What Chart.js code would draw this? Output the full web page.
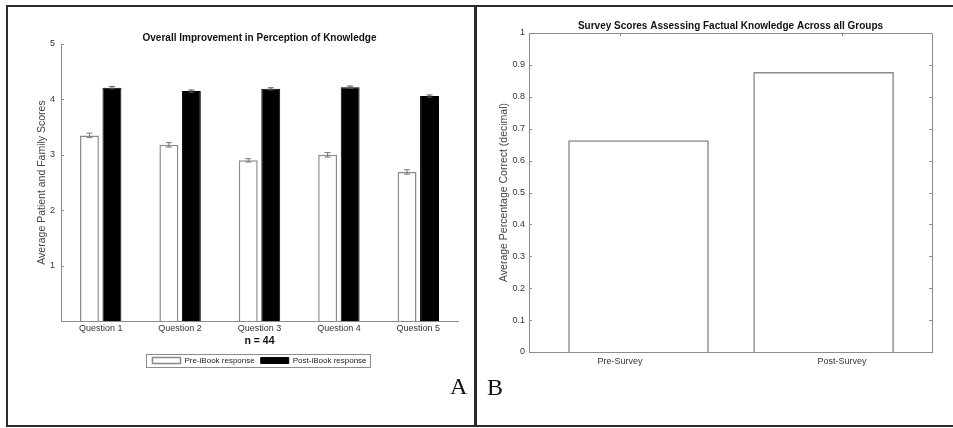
<!DOCTYPE html>
<html>
<head>
<meta charset="utf-8">
<title>Knowledge survey charts</title>
<script src="https://cdn.jsdelivr.net/npm/chart.js@4.4.0/dist/chart.umd.min.js"></script>
<style>
  html, body { margin: 0; padding: 0; background: #fff; }
  #wrap { position: relative; width: 953px; height: 428px; overflow: hidden; }
  canvas { position: absolute; top: 0; }
  #chartA { left: 0; }
  #chartB { left: 477px; }
  .rule { position: absolute; background: #2b2b2b; }
  .tag { position: absolute; font-family: "Liberation Serif", "Times New Roman", serif; font-size: 24px; line-height: 1; color: #111; }
</style>
</head>
<body>
<div id="wrap">
  <canvas id="chartA" width="476" height="428"></canvas>
  <canvas id="chartB" width="476" height="428"></canvas>
  <div class="rule" style="left:6px;top:5px;width:947px;height:2px"></div>
  <div class="rule" style="left:6px;top:5px;width:2px;height:422px"></div>
  <div class="rule" style="left:6px;top:425px;width:947px;height:2px"></div>
  <div class="rule" style="left:474px;top:5px;width:3px;height:422px"></div>
  <div class="tag" style="left:450px;top:374px">A</div>
  <div class="tag" style="left:487px;top:375px">B</div>
</div>
<script>
  // panel A data: perceived knowledge, pre vs post iBook
  const questions = ['Question 1', 'Question 2', 'Question 3', 'Question 4', 'Question 5'];
  const preScores = [3.35, 3.18, 2.90, 3.00, 2.69];
  const preErrors = [0.04, 0.04, 0.03, 0.04, 0.04];
  const postScores = [4.21, 4.15, 4.19, 4.22, 4.06];
  const postErrors = [0.02, 0.02, 0.02, 0.02, 0.02];

  // panel B data: factual knowledge survey
  const surveyLabels = ['Pre-Survey', 'Post-Survey'];
  const surveyScores = [0.663, 0.877];

  const FONT = '"Liberation Sans", Arial, sans-serif';
  const AXIS_GREY = '#8c8c8c';
  Chart.defaults.font.family = FONT;

  // error bars drawn from the dataset's own errors array
  const errorBars = {
    id: 'errorBars',
    afterDatasetsDraw(chart) {
      const ctx = chart.ctx;
      const yScale = chart.scales.y;
      chart.data.datasets.forEach((ds, i) => {
        if (!ds.errors) return;
        const meta = chart.getDatasetMeta(i);
        ctx.save();
        ctx.strokeStyle = ds.errorColor || '#666';
        ctx.lineWidth = 1;
        meta.data.forEach((bar, j) => {
          const v = ds.data[j], e = ds.errors[j];
          const top = yScale.getPixelForValue(v + e);
          const bot = yScale.getPixelForValue(v - e);
          const w = 3;
          ctx.beginPath();
          ctx.moveTo(bar.x, top); ctx.lineTo(bar.x, bot);
          ctx.moveTo(bar.x - w, top); ctx.lineTo(bar.x + w, top);
          ctx.moveTo(bar.x - w, bot); ctx.lineTo(bar.x + w, bot);
          ctx.stroke();
        });
        ctx.restore();
      });
    }
  };

  // thin frame round the legend items (matlab style)
  const legendFrame = {
    id: 'legendFrame',
    afterDraw(chart) {
      const boxes = chart.legend && chart.legend.legendHitBoxes;
      if (!boxes || !boxes.length) return;
      const first = boxes[0], last = boxes[boxes.length - 1];
      const ctx = chart.ctx;
      ctx.save();
      ctx.strokeStyle = AXIS_GREY;
      ctx.lineWidth = 1;
      ctx.strokeRect(Math.round(first.left - 6) + 0.5, Math.round(first.top - 2.5) + 0.5,
        Math.round(last.left + last.width + 4 - (first.left - 6)), 13);
      ctx.restore();
    }
  };

  // inward tick marks, plus the closing box when asked
  const innerTicks = {
    id: 'innerTicks',
    afterDraw(chart, args, opts) {
      const ctx = chart.ctx, a = chart.chartArea;
      const len = 3;
      ctx.save();
      ctx.strokeStyle = AXIS_GREY;
      ctx.lineWidth = 1;
      ctx.beginPath();
      const ys = chart.scales.y;
      ys.ticks.forEach((t, i) => {
        const y = Math.round(ys.getPixelForTick(i)) + 0.5;
        ctx.moveTo(a.left, y); ctx.lineTo(a.left + len, y);
        if (opts.box) { ctx.moveTo(a.right, y); ctx.lineTo(a.right - len, y); }
      });
      if (opts.box) {
        const xs = chart.scales.x;
        xs.ticks.forEach((t, i) => {
          const x = Math.round(xs.getPixelForTick(i)) + 0.5;
          ctx.moveTo(x, a.top); ctx.lineTo(x, a.top + len);
        });
        ctx.rect(Math.round(a.left) + 0.5, Math.round(a.top) + 0.5,
          Math.round(a.right - a.left), Math.round(a.bottom - a.top));
      }
      ctx.stroke();
      ctx.restore();
    }
  };

  // ---------- panel A ----------
  new Chart(document.getElementById('chartA'), {
    type: 'bar',
    data: {
      labels: questions,
      datasets: [
        { label: 'Pre-iBook response', data: preScores, errors: preErrors, errorColor: '#777',
          backgroundColor: '#ffffff', borderColor: '#8a8a8a', borderWidth: 1.5 },
        { label: 'Post-iBook response', data: postScores, errors: postErrors, errorColor: '#555',
          backgroundColor: '#000000', borderColor: '#000000', borderWidth: 1 }
      ]
    },
    options: {
      responsive: false,
      animation: false,
      layout: { padding: { left: 31, right: 18, top: 0, bottom: 53.5 } },
      datasets: { bar: { categoryPercentage: 0.567, barPercentage: 0.84, borderSkipped: 'start' } },
      plugins: {
        title: {
          display: true, fullSize: false,
          text: 'Overall Improvement in Perception of Knowledge',
          color: '#111', font: { size: 10, weight: 'bold' },
          padding: { top: 32.5, bottom: -0.5 }
        },
        legend: {
          position: 'bottom', fullSize: false,
          labels: { boxWidth: 28, boxHeight: 6, padding: 6, color: '#222', font: { size: 8 } }
        },
        tooltip: { enabled: false },
        innerTicks: { box: false }
      },
      scales: {
        x: {
          grid: { display: false, drawTicks: false },
          border: { color: AXIS_GREY },
          ticks: { color: '#333', font: { size: 9 }, padding: 2.5 },
          title: { display: true, text: 'n = 44', color: '#111', font: { size: 10.5, weight: 'bold' }, padding: { top: 0, bottom: 3 } },
          afterFit: s => { s.height = 29.5; }
        },
        y: {
          min: 0, max: 5,
          grid: { display: false, drawTicks: false },
          border: { color: AXIS_GREY },
          ticks: { stepSize: 1, color: '#333', font: { size: 9 }, padding: 6,
            callback: v => (v === 0 ? '' : v) },
          title: { display: true, text: 'Average Patient and Family Scores', color: '#444', font: { size: 10.5 }, padding: { top: 5 } },
          afterFit: s => { s.width = 30; }
        }
      }
    },
    plugins: [errorBars, legendFrame, innerTicks]
  });

  // ---------- panel B ----------
  new Chart(document.getElementById('chartB'), {
    type: 'bar',
    data: {
      datasets: [{
        label: 'Average Percentage Correct',
        data: surveyScores.map((v, i) => ({ x: i + 1, y: v })),
        backgroundColor: '#ffffff', borderColor: '#8a8a8a', borderWidth: 1.5,
        barThickness: 140, borderSkipped: 'start'
      }]
    },
    options: {
      responsive: false,
      animation: false,
      layout: { padding: { left: 12, right: 21, top: 0, bottom: 56 } },
      plugins: {
        title: {
          display: true, fullSize: false,
          text: 'Survey Scores Assessing Factual Knowledge Across all Groups',
          color: '#111', font: { size: 10, weight: 'bold' },
          padding: { top: 20.5, bottom: 0.5 }
        },
        legend: { display: false },
        tooltip: { enabled: false },
        innerTicks: { box: true }
      },
      scales: {
        x: {
          type: 'linear', min: 0.408, max: 2.586, offset: false, bounds: 'data',
          grid: { display: false, drawTicks: false },
          border: { color: AXIS_GREY },
          afterBuildTicks: s => { s.ticks = [{ value: 0.9 }, { value: 2.1 }]; },
          ticks: { color: '#333', font: { size: 9 }, padding: 4.5,
            callback: (v, i) => surveyLabels[i] },
          afterFit: s => { s.height = 20; }
        },
        y: {
          min: 0, max: 1,
          grid: { display: false, drawTicks: false },
          border: { color: AXIS_GREY },
          ticks: { stepSize: 0.1, color: '#333', font: { size: 9 }, padding: 4,
            callback: v => String(+v.toFixed(1)) },
          title: { display: true, text: 'Average Percentage Correct (decimal)', color: '#444', font: { size: 10.5 }, padding: { top: 8.6 } },
          afterFit: s => { s.width = 40; }
        }
      }
    },
    plugins: [innerTicks]
  });
</script>
</body>
</html>
